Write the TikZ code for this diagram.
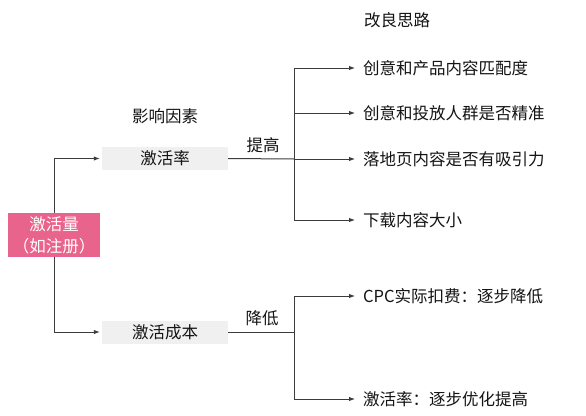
\documentclass[tikz,border=0pt]{standalone}
\usepackage{fontspec}
\setmainfont{Noto Sans CJK SC}
\usetikzlibrary{arrows.meta}
\definecolor{pinkbox}{RGB}{233,100,140}
\definecolor{greybox}{RGB}{240,240,240}
\definecolor{linec}{RGB}{60,60,60}
\definecolor{txt}{RGB}{20,20,20}
\begin{document}
\begin{tikzpicture}[x=1pt,y=-1pt,
  every node/.style={font=\fontsize{16.5}{20}\selectfont, text=txt},
  conn/.style={draw=linec, line width=1pt},
  arr/.style={conn, -{Latex[length=6pt,width=4.5pt]}},
  rootbox/.style={fill=pinkbox, minimum width=92pt, minimum height=44pt, inner sep=0pt, align=center, text=white, font=\fontsize{16.5}{22}\selectfont},
  factbox/.style={fill=greybox, minimum width=126pt, minimum height=23pt, inner sep=0pt},
  item/.style={anchor=west, inner sep=0pt},
  lbl/.style={inner sep=0pt}
]
\useasboundingbox (0,0) rectangle (586,415);
\fill[white] (0,0) rectangle (586,415);

\node[rootbox] (act) at (54,235) {激活量\\（如注册）};
\node[factbox] (r1) at (165,158.5) {激活率};
\node[factbox] (r2) at (165,332) {激活成本};

\node[lbl] (hd1) at (165,116) {影响因素};
\node[lbl] (hd2) at (397,20) {改良思路};
\node[lbl] (up) at (263,145) {提高};
\node[lbl] (down) at (262,318) {降低};

\node[item] (a1) at (363,68) {创意和产品内容匹配度};
\node[item] (a2) at (363,113) {创意和投放人群是否精准};
\node[item] (a3) at (363,159) {落地页内容是否有吸引力};
\node[item] (a4) at (363,220) {下载内容大小};
\node[item] (b1) at (363,296) {CPC实际扣费：逐步降低};
\node[item] (b2) at (363,399) {激活率：逐步优化提高};

% root to factors
\draw[arr, shorten >=2pt] (act.north) |- (r1.west);
\draw[arr, shorten >=2pt] (act.south) |- (r2.west);

% upper bracket
\coordinate (j1) at (294,159);
\draw[conn] (r1.east) -- (j1);
\draw[conn] (294,68) -- (294,220);
\draw[arr, shorten >=8pt] (294,68) -- (a1.west);
\draw[arr, shorten >=8pt] (294,113) -- (a2.west);
\draw[arr, shorten >=8pt] (j1) -- (a3.west);
\draw[arr, shorten >=8pt] (294,220) -- (a4.west);

% lower bracket
\coordinate (j2) at (294,332);
\draw[conn] (r2.east) -- (j2);
\draw[conn] (294,296) -- (294,399);
\draw[arr, shorten >=8pt] (294,296) -- (b1.west);
\draw[arr, shorten >=8pt] (294,399) -- (b2.west);
\end{tikzpicture}
\end{document}
